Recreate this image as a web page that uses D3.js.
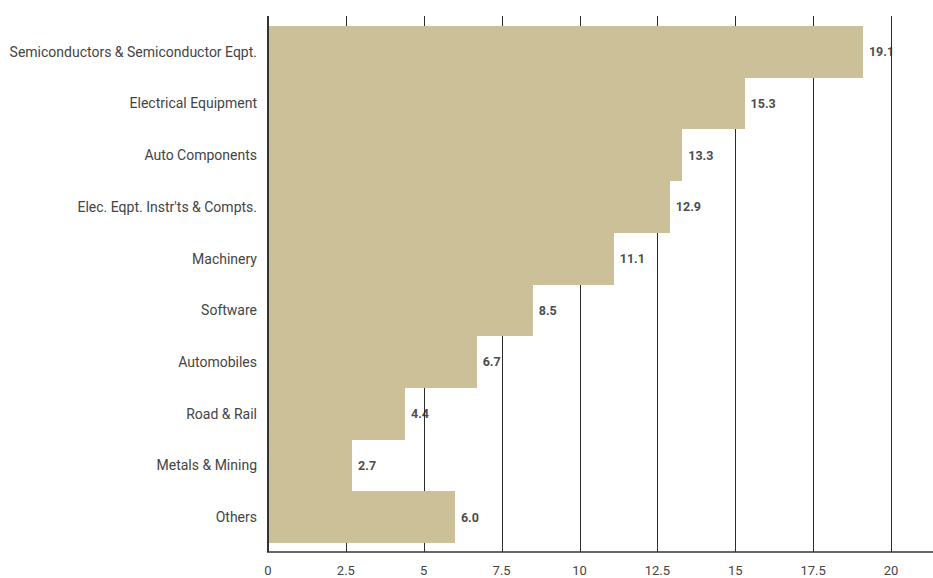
<!DOCTYPE html>
<html><head><meta charset="utf-8">
<script src="https://cdn.jsdelivr.net/npm/d3@7"></script>
<style>body{margin:0;background:#fff;} text{font-family:Roboto,"Noto Sans",sans-serif;}</style>
</head><body>
<svg id="c" width="933" height="578"></svg>
<script>
const categories = ["Semiconductors & Semiconductor Eqpt.","Electrical Equipment","Auto Components","Elec. Eqpt. Instr'ts & Compts.","Machinery","Software","Automobiles","Road & Rail","Metals & Mining","Others"];
const values = [19.1,15.3,13.3,12.9,11.1,8.5,6.7,4.4,2.7,6.0];
const tickValues = [0,2.5,5,7.5,10,12.5,15,17.5,20];
const tickLabels = ["0","2.5","5","7.5","10","12.5","15","17.5","20"];

const svg = d3.select("#c");
const x = d3.scaleLinear().domain([0,20]).range([268,891]);
const y = d3.scaleBand().domain(categories).range([26,543]).padding(0);
const gTop = 16, gBottom = 552;

// value labels (under gridlines)
svg.append("g").selectAll("text").data(values).join("text")
  .attr("x", d => x(d) + 6)
  .attr("y", (d,i) => y(categories[i]) + y.bandwidth()/2)
  .attr("dy","0.35em")
  .attr("font-size", 12.5).attr("font-weight", 700).attr("fill", "#4d4d4d")
  .text(d => d.toFixed(1));

// gridlines
svg.append("g").selectAll("line").data(tickValues.slice(1)).join("line")
  .attr("x1", d => Math.round(x(d)) + 0.5).attr("x2", d => Math.round(x(d)) + 0.5)
  .attr("y1", gTop).attr("y2", gBottom)
  .attr("stroke", "#2b2b2b").attr("stroke-width", 1);

// bars
svg.append("g").attr("shape-rendering", "crispEdges").selectAll("rect").data(values).join("rect")
  .attr("x", x(0))
  .attr("y", (d,i) => Math.round(y(categories[i])))
  .attr("width", d => x(d) - x(0))
  .attr("height", (d,i) => Math.round(y(categories[i]) + y.bandwidth()) - Math.round(y(categories[i])))
  .attr("fill", "#cbc098");

// left axis line
svg.append("line").attr("x1", x(0)).attr("x2", x(0)).attr("y1", gTop).attr("y2", gBottom)
  .attr("stroke", "#333").attr("stroke-width", 2);
// bottom axis line
svg.append("line").attr("x1", x(0)-1).attr("x2", 933).attr("y1", gBottom).attr("y2", gBottom)
  .attr("stroke", "#333").attr("stroke-width", 1.5);

// x tick labels
svg.append("g").selectAll("text").data(tickValues).join("text")
  .attr("x", d => x(d)).attr("y", 570).attr("dy","0.35em")
  .attr("text-anchor", "middle").attr("font-size", 13).attr("fill", "#444")
  .text((d,i) => tickLabels[i]);

// category labels
svg.append("g").selectAll("text").data(categories).join("text")
  .attr("x", 257)
  .attr("y", d => y(d) + y.bandwidth()/2)
  .attr("dy","0.35em")
  .attr("text-anchor", "end").attr("font-size", 14).attr("fill", "#444")
  .text(d => d);
</script>
</body></html>
